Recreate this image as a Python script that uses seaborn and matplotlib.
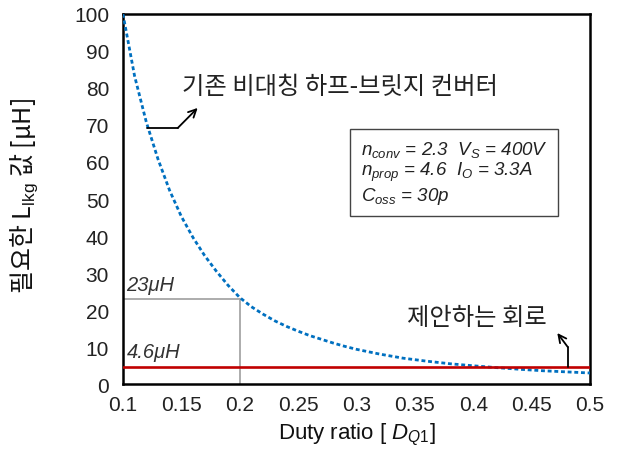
import matplotlib
matplotlib.use("Agg")
import matplotlib.pyplot as plt
import seaborn as sns
import pandas as pd

# ---- data ----
duty = [0.10, 0.11, 0.12, 0.13, 0.14, 0.15, 0.16, 0.17, 0.18, 0.19, 0.20,
        0.21, 0.22, 0.23, 0.24, 0.25, 0.26, 0.27, 0.28, 0.29, 0.30,
        0.32, 0.34, 0.36, 0.38, 0.40, 0.42, 0.44, 0.46, 0.48, 0.50]
l_conv = [100, 83.2, 70.8, 60.8, 52.3, 45.3, 39.6, 34.7, 30.5, 26.7, 23.4,
          20.9, 18.9, 17.1, 15.6, 14.3, 13.1, 12.1, 11.1, 10.2, 9.4,
          8.1, 7.0, 6.2, 5.5, 4.95, 4.45, 4.0, 3.6, 3.3, 3.0]
l_prop = 4.6
d_mark = 0.2
l_mark = 23
x_ticks = [0.1, 0.15, 0.2, 0.25, 0.3, 0.35, 0.4, 0.45, 0.5]
x_tick_labels = ["0.1", "0.15", "0.2", "0.25", "0.3", "0.35", "0.4", "0.45", "0.5"]
y_ticks = [0, 10, 20, 30, 40, 50, 60, 70, 80, 90, 100]

sns.set_theme(style="white")
plt.rcParams['font.family'] = ['Noto Sans CJK KR', 'DejaVu Sans']
plt.rcParams['mathtext.fontset'] = 'custom'
plt.rcParams['mathtext.rm'] = 'Liberation Sans'
plt.rcParams['mathtext.it'] = 'Liberation Sans:italic'

df = pd.DataFrame({"D": duty, "L": l_conv})

fig = plt.figure(figsize=(6.24, 4.52), dpi=100)
ax = fig.add_axes([0.197, 0.148, 0.7485, 0.819])

sns.lineplot(data=df, x="D", y="L", ax=ax, color="#0070C0", linewidth=2.0,
             dashes=False, zorder=3)
ax.lines[-1].set_dashes([1.4, 1.0])

ax.plot([0.1, 0.5], [l_prop, l_prop], color="#C00000", linewidth=1.9, zorder=4)
ax.plot([0.1, d_mark], [l_mark, l_mark], color="#A6A6A6", linewidth=1.3, zorder=2)
ax.plot([d_mark, d_mark], [0, l_mark], color="#A6A6A6", linewidth=1.3, zorder=2)

ax.set_xlim(0.1, 0.5)
ax.set_ylim(0, 100)
ax.set_xticks(x_ticks)
ax.set_xticklabels(x_tick_labels)
ax.set_yticks(y_ticks)
for lab in ax.get_xticklabels() + ax.get_yticklabels():
    lab.set_fontfamily('Liberation Sans')
    lab.set_fontsize(15)
    lab.set_color('#222222')
ax.tick_params(axis='both', length=0)
ax.tick_params(axis='x', pad=8)
ax.tick_params(axis='y', pad=10)
for s in ax.spines.values():
    s.set_color('black')
    s.set_linewidth(1.8)
    s.set_visible(True)

ax.set_xlabel(r"Duty ratio [ $D_{Q1}$]", fontsize=16, family='Liberation Sans',
              color='#111111', labelpad=5)
ax.set_ylabel(r"필요한 L$_{\mathrm{lkg}}$ 값 [μH]", fontsize=18, color='#111111')
ax.yaxis.set_label_coords(-0.178, 0.51)

# annotations
ax.text(0.151, 80.5, "기존 비대칭 하프-브릿지 컨버터", fontsize=17.5, va='center',
        ha='left', color='#222222', style='italic', weight='light')
ax.plot([0.1206, 0.147], [69.2, 69.2], color='black', linewidth=1.3, zorder=5)
ax.annotate("", xy=(0.164, 74.6), xytext=(0.147, 69.2),
            arrowprops=dict(arrowstyle="->", color='black', lw=1.3,
                            shrinkA=0, shrinkB=0, mutation_scale=14), zorder=5)

ax.text(0.343, 18.1, "제안하는 회로", fontsize=17.5, va='center', ha='left',
        color='#222222', style='italic', weight='light')
ax.plot([0.481, 0.481], [l_prop, 10], color='black', linewidth=1.3, zorder=5)
ax.annotate("", xy=(0.472, 13.8), xytext=(0.481, 10),
            arrowprops=dict(arrowstyle="->", color='black', lw=1.3,
                            shrinkA=0, shrinkB=0, mutation_scale=14), zorder=5)

ax.text(0.103, 27.0, "23μH", fontsize=14.5, va='center', ha='left',
        family='Liberation Sans', style='italic', color='#333333')
ax.text(0.103, 8.7, "4.6μH", fontsize=14.5, va='center', ha='left',
        family='Liberation Sans', style='italic', color='#333333')

box_txt = (r"$n_{conv}$ = 2.3  $V_S$ = 400V" + "\n" +
           r"$n_{prop}$ = 4.6  $I_O$ = 3.3A" + "\n" +
           r"$C_{oss}$ = 30p")
ax.text(0.3035, 57.2, box_txt, fontsize=13.5, va='center', ha='left',
        family='Liberation Sans', style='italic', color='#222222',
        linespacing=1.1,
        bbox=dict(boxstyle='square,pad=0.55', facecolor='white',
                  edgecolor='#444444', linewidth=1.0))

fig.savefig("out.png", dpi=100)
